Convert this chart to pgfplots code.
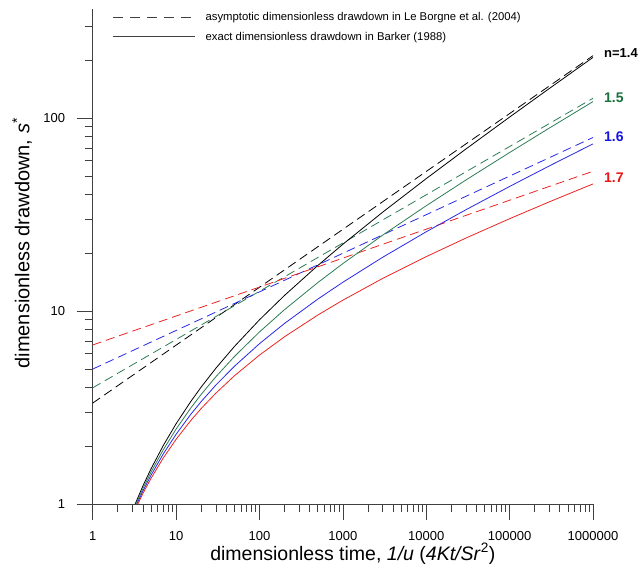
\documentclass[border=0pt]{standalone}
\usepackage{fontspec}
\setmainfont{Liberation Sans}
\usepackage{pgfplots}
\pgfplotsset{compat=1.18}
\definecolor{cgreen}{RGB}{45,125,85}
\definecolor{cgreenlab}{RGB}{25,112,60}
\definecolor{cblue}{RGB}{40,40,235}
\definecolor{cbluelab}{RGB}{20,20,230}
\definecolor{cred}{RGB}{235,35,35}
\definecolor{credlab}{RGB}{235,20,20}
\begin{document}
\begin{tikzpicture}
\useasboundingbox (-92.7pt,-60pt) rectangle (545.3pt,504pt);
\begin{axis}[
  at={(0pt,0pt)}, anchor=south west,
  scale only axis, width=500.3pt, height=495pt,
  xmode=log, ymode=log,
  xmin=1, xmax=1000000, ymin=1, ymax=367,
  axis lines=left, axis line style={-, line width=0.7pt, black!75},
  tick align=outside, major tick length=16pt, minor tick length=8pt,
  tick style={black!75, line width=0.7pt},
  xtick={1,10,100,1000,10000,100000,1000000},
  xticklabels={1,10,100,1000,10000,100000,1000000},
  minor xtick={2,3,4,5,6,7,8,9,20,30,40,50,60,70,80,90,200,300,400,500,600,700,800,900,2000,3000,4000,5000,6000,7000,8000,9000,20000,30000,40000,50000,60000,70000,80000,90000,200000,300000,400000,500000,600000,700000,800000,900000},
  ytick={1,10,100}, yticklabels={1,10,100},
  minor ytick={2,3,4,5,6,7,8,9,20,30,40,50,60,70,80,90,200,300},
  ticklabel style={font=\fontsize{13}{15}\selectfont},
  xticklabel style={yshift=-10pt, inner sep=1pt},
  yticklabel style={xshift=-8pt},
  xlabel={dimensionless time, \textit{1/u} (\textit{4Kt/Sr}\textsuperscript{2})},
  ylabel={dimensionless drawdown, \textit{s}\textsuperscript{*}},
  label style={inner sep=0pt},
  xlabel style={font=\fontsize{19.5}{23}\selectfont, at={(axis description cs:0.52,-0.101)}, anchor=center},
  ylabel style={font=\fontsize{20}{24}\selectfont, at={(axis description cs:-0.141,0.527)}, anchor=center},
  clip mode=individual,
  legend style={at={(axis description cs:0.04,0.998)}, anchor=north west, draw=none, fill=none,
    font=\fontsize{11.3}{13}\selectfont, row sep=6pt, inner sep=0pt},
  legend cell align=left,
  legend image code/.code={\draw[#1] (0pt,0pt) -- (82pt,0pt); \path (90pt,0pt);},
  /pgf/number format/assume math mode=true,
]
\addlegendimage{black!75, line width=0.7pt, dash pattern=on 10pt off 7pt}
\addlegendentry{asymptotic dimensionless drawdown in Le Borgne et al. (2004)}
\addlegendimage{black!75, line width=0.7pt}
\addlegendentry{exact dimensionless drawdown in Barker (1988)}

% asymptotic (dashed)
\addplot[forget plot, black, line width=0.8pt, dash pattern=on 9pt off 5pt] coordinates {(1,3.3333) (1000000,210.32)};
\addplot[forget plot, cgreen, line width=0.8pt, dash pattern=on 9pt off 5pt] coordinates {(1,4.0) (1000000,126.49)};
\addplot[forget plot, cblue, line width=0.8pt, dash pattern=on 9pt off 5pt] coordinates {(1,5.0) (1000000,79.245)};
\addplot[forget plot, cred, line width=0.8pt, dash pattern=on 9pt off 5pt] coordinates {(1,6.6667) (1000000,52.955)};

% exact (solid)
\addplot[forget plot, black, line width=0.8pt] coordinates {
(3,0.9274) (4,1.2404) (5,1.5201) (7,2.0040) (10,2.6033) (15,3.3959) (20,4.0350) (30,5.0518) (50,6.5440) (100,9.0001) (200,12.046) (500,17.194) (1000,22.162) (3000,32.492) (10000,48.505) (30000,69.128) (100000,101.08) (300000,142.23) (1000000,205.99)};
\addplot[forget plot, cgreen, line width=0.8pt] coordinates {
(3,0.9086) (4,1.2026) (5,1.4621) (7,1.9053) (10,2.4436) (15,3.1428) (20,3.6968) (30,4.5630) (50,5.8055) (100,7.7895) (200,10.166) (500,14.026) (1000,17.599) (3000,24.705) (10000,35.100) (30000,47.742) (100000,66.230) (300000,88.712) (1000000,121.59)};
\addplot[forget plot, cblue, line width=0.8pt] coordinates {
(3,0.8907) (4,1.1670) (5,1.4077) (7,1.8131) (10,2.2971) (15,2.9139) (20,3.3942) (30,4.1323) (50,5.1669) (100,6.7696) (200,8.6239) (500,11.516) (1000,14.089) (3000,18.978) (10000,25.728) (30000,33.479) (100000,44.179) (300000,56.466) (1000000,73.424)};
\addplot[forget plot, cred, line width=0.8pt] coordinates {
(3,0.8738) (4,1.1334) (5,1.3568) (7,1.7277) (10,2.1628) (15,2.7068) (20,3.1234) (30,3.7522) (50,4.6138) (100,5.9086) (200,7.3559) (500,9.5232) (1000,11.376) (3000,14.740) (10000,19.124) (30000,23.879) (100000,30.073) (300000,36.789) (1000000,45.539)};

\node[anchor=west, inner sep=0pt, xshift=11pt, font=\fontsize{13}{15}\selectfont\bfseries, text=black] at (axis cs:1000000,217) {n=1.4};
\node[anchor=west, inner sep=0pt, xshift=11pt, font=\fontsize{14}{16}\selectfont\bfseries, text=cgreenlab] at (axis cs:1000000,128) {1.5};
\node[anchor=west, inner sep=0pt, xshift=11pt, font=\fontsize{14}{16}\selectfont\bfseries, text=cbluelab] at (axis cs:1000000,79.7) {1.6};
\node[anchor=west, inner sep=0pt, xshift=11pt, font=\fontsize{14}{16}\selectfont\bfseries, text=credlab] at (axis cs:1000000,49) {1.7};
\end{axis}
\end{tikzpicture}
\end{document}
